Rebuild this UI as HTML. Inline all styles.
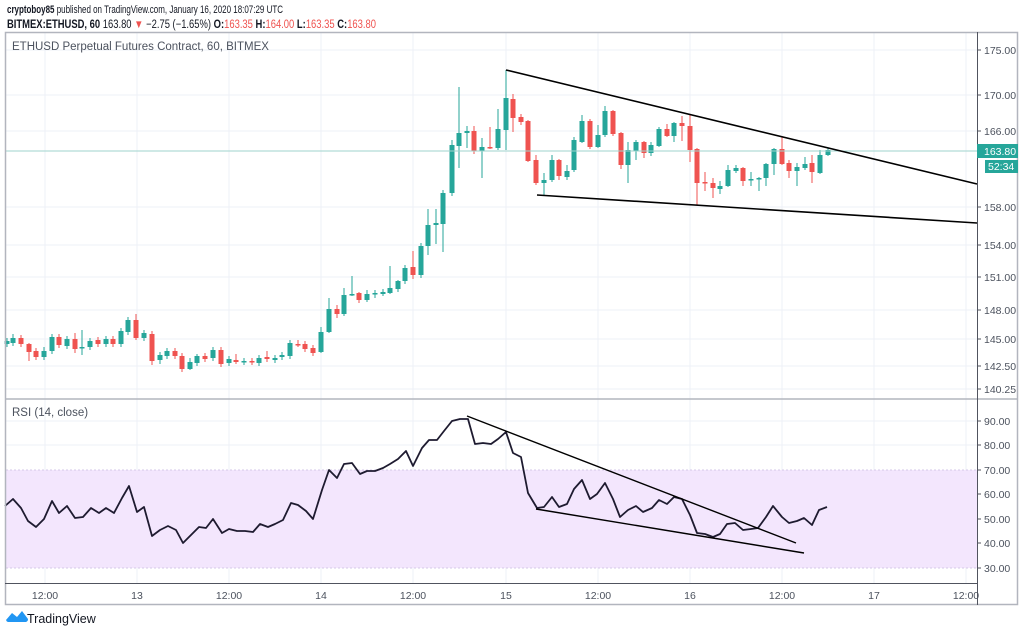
<!DOCTYPE html>
<html><head><meta charset="utf-8">
<style>
body{margin:0;background:#fff;width:1024px;height:633px;overflow:hidden;font-family:"Liberation Sans",sans-serif;}
svg{position:absolute;left:0;top:0}
</style></head>
<body>
<svg id="s" width="1024" height="633" xmlns="http://www.w3.org/2000/svg" font-family="Liberation Sans, sans-serif">
<text x="7" y="13" font-size="11" fill="#131722" textLength="276" lengthAdjust="spacingAndGlyphs"><tspan font-weight="bold">cryptoboy85</tspan> published on TradingView.com, January 16, 2020 18:07:29 UTC</text>
<text x="7" y="28" font-size="11.5" fill="#131722" textLength="369" lengthAdjust="spacingAndGlyphs"><tspan font-weight="bold">BITMEX:ETHUSD, 60</tspan> 163.80 <tspan fill="#ef5350">▼</tspan> −2.75 (−1.65%) <tspan font-weight="bold">O:</tspan><tspan fill="#ef5350">163.35</tspan> <tspan font-weight="bold">H:</tspan><tspan fill="#ef5350">164.00</tspan> <tspan font-weight="bold">L:</tspan><tspan fill="#ef5350">163.35</tspan> <tspan font-weight="bold">C:</tspan><tspan fill="#ef5350">163.80</tspan></text>
<g id="grid"></g>
<rect x="6" y="470" width="971" height="98" fill="#f3e6fd"/>
<line x1="6" y1="470" x2="977" y2="470" stroke="#d6c8e8" stroke-dasharray="2,2"/>
<line x1="6" y1="568" x2="977" y2="568" stroke="#d6c8e8" stroke-dasharray="2,2"/>
<g id="c"></g>
<line x1="6" y1="151" x2="977" y2="151" stroke="#9fd3cd" stroke-width="1"/>
<line x1="506" y1="70" x2="977" y2="184" stroke="#000" stroke-width="1.6"/>
<line x1="537" y1="195" x2="977" y2="223" stroke="#000" stroke-width="1.6"/>
<polyline id="rsi" fill="none" stroke="#1e1b30" stroke-width="1.8" stroke-linejoin="round"/>
<line x1="467" y1="416" x2="796" y2="543" stroke="#000" stroke-width="1.4"/>
<line x1="536" y1="509" x2="804" y2="553" stroke="#000" stroke-width="1.4"/>
<rect x="5.5" y="32.5" width="1012" height="572" fill="none" stroke="#b2b5be" stroke-width="1.5"/>
<line x1="5" y1="399" x2="1018" y2="399" stroke="#b2b5be" stroke-width="1.5"/>
<line x1="977.5" y1="32" x2="977.5" y2="605" stroke="#50535e" stroke-width="1"/>
<line x1="5" y1="583.5" x2="977" y2="583.5" stroke="#50535e" stroke-width="1"/>
<text x="12" y="50" font-size="11.5" fill="#4c525e">ETHUSD Perpetual Futures Contract, 60, BITMEX</text>
<text x="12" y="416" font-size="11.5" fill="#4c525e">RSI (14, close)</text>
<g id="ax" font-size="10.5" fill="#4c525e"></g>
<rect x="977" y="144" width="41" height="14" fill="#26a69a"/>
<text x="984" y="155" font-size="10.5" fill="#fff">163.80</text>
<rect x="985" y="160" width="33" height="13" fill="#26a69a"/>
<text x="988" y="170" font-size="10.5" fill="#fff">52:34</text>
<path d="M6 620 l6 -7 l5 4 l5 -6 l6 8 a3 3 0 0 1 -2 3 h-18 a3 3 0 0 1 -2 -2z" fill="#2196f3"/>
<text x="27" y="623" font-size="12.5" fill="#131722">TradingView</text>
</svg>
<script>
const NS="http://www.w3.org/2000/svg";
function el(p,t,a,txt){const e=document.createElementNS(NS,t);for(const k in a)e.setAttribute(k,a[k]);if(txt)e.textContent=txt;document.getElementById(p).appendChild(e);}
[50,95,131,207,245,277,310,339,366,389,421,445,494,519,543].forEach(y=>el("grid","line",{x1:6,x2:977,y1:y,y2:y,stroke:"#eef1f7"}));
const xs=[45,137,229,321,413,506,598,690,782,874,966],xl=["12:00","13","12:00","14","12:00","15","12:00","16","12:00","17","12:00"];
xs.forEach((x,i)=>{el("grid","line",{x1:x,x2:x,y1:33,y2:583,stroke:"#eef1f7"});el("ax","text",{x:x,y:599,"text-anchor":"middle"},xl[i]);});
[[50,"175.00"],[95,"170.00"],[131,"166.00"],[207,"158.00"],[245,"154.00"],[277,"151.00"],[310,"148.00"],[339,"145.00"],[366,"142.50"],[389,"140.25"],[421,"90.00"],[445,"80.00"],[470,"70.00"],[494,"60.00"],[519,"50.00"],[543,"40.00"],[568,"30.00"]].forEach(a=>{el("ax","line",{x1:977,x2:981,y1:a[0],y2:a[0],stroke:"#50535e"});el("ax","text",{x:984,y:a[0]+4},a[1]);});
const C=[[7,341,344,'g'],[13,338,343,'g',334],[21,338,344,'r'],[29,344,352,'r',343,361],[36,351,357,'r'],[44,351,357,'g',347],[52,337,351,'g'],[59,337,345,'r',334],[67,339,346,'g'],[75,339,349,'r',333,353],[82,347,348,'g',330,355],[90,341,347,'g'],[98,340,344,'r'],[106,339,344,'g'],[113,339,344,'r'],[121,331,344,'g'],[128,320,332,'g'],[136,320,338,'r',314,340],[144,333,338,'g'],[152,334,361,'r',331,365],[160,355,360,'g',352,364],[167,351,356,'g'],[175,351,356,'r'],[182,356,369,'r'],[190,362,369,'g',358,370],[197,356,363,'g',354,366],[205,356,359,'r'],[213,350,358,'g'],[221,350,364,'r'],[229,359,363,'g'],[236,360,362,'r',354,364],[244,361,362,'g',358,365],[252,361,362,'r'],[259,358,363,'g'],[267,357,359,'r',351,362],[275,358,360,'g'],[282,355,357,'g'],[290,343,356,'g'],[298,344,345,'r',340,347],[305,344,349,'r'],[313,348,353,'r'],[321,332,352,'g',327,353],[329,309,332,'g',298,333],[337,309,314,'r',305,318],[344,295,314,'g',288,316],[352,294,295,'g',276,296],[359,293,300,'r',292,303],[367,294,300,'g',290,302],[375,293,294,'g',290,298],[383,292,294,'g',289,296],[390,288,293,'g',266,294],[398,281,289,'g',280,292],[405,268,281,'g'],[413,267,275,'r',251,279],[421,246,275,'g'],[428,225,246,'g',209,255],[436,223,225,'g',209,244],[443,193,224,'g',190,252],[452,145,193,'g',140,196],[459,133,146,'g',87,168],[467,131,133,'g',126,148],[474,131,151,'r',126,154],[482,147,151,'g',138,178],[490,147,148,'r',127,149],[498,129,148,'g',109,150],[506,98,130,'g',70,150],[513,99,118,'r',94,132],[521,117,122,'r'],[528,121,161,'r',120,162],[536,160,183,'r',155,185],[544,180,183,'g',173,195],[552,160,180,'g',155,182],[559,160,176,'r',159,180],[567,171,177,'g',165,180],[574,140,170,'g',137,172],[582,121,142,'g',115,143],[590,121,147,'r',119,149],[598,135,147,'g',125,148],[605,111,135,'g',106,137],[613,111,134,'r',110,136],[621,133,165,'r',132,169],[628,150,165,'g',142,183],[636,142,151,'g',140,160],[644,142,153,'r',141,158],[651,145,153,'g'],[659,129,146,'g',127,147],[667,129,136,'r',124,137],[674,123,136,'g',122,142],[682,123,126,'r',116,141],[690,126,150,'r',115,162],[697,149,183,'r',148,205],[705,182,183,'r',172,191],[713,183,188,'r',178,198],[720,186,189,'g',181,194],[728,170,186,'g',165,187],[736,168,171,'g',165,173],[743,168,181,'r',167,186],[751,179,180,'g',172,186],[759,178,179,'g',177,191],[766,164,178,'g',163,186],[774,149,164,'g',148,175],[782,149,164,'r',136,165],[789,163,171,'r',160,178],[797,167,171,'g',163,186],[805,164,168,'g',157,170],[812,163,172,'r',155,183],[820,155,173,'g',150,174],[828,150,155,'g',148,156]];
C.forEach(c=>{const col=c[3]=='g'?"#26a69a":"#ef5350";const wt=c[4]||c[1]-3,wb=c[5]||c[2]+3;
el("c","line",{x1:c[0],x2:c[0],y1:wt,y2:wb,stroke:col,"stroke-width":1});
el("c","rect",{x:c[0]-2.5,y:c[1],width:5,height:Math.max(1.5,c[2]-c[1]),fill:col});});
const R=[[5,506],[13,499],[21,508],[28,521],[36,527],[44,519],[52,501],[59,513],[67,506],[75,518],[83,517],[91,508],[99,513],[106,508],[114,513],[122,498],[129,486],[137,512],[144,507],[152,536],[160,530],[168,526],[176,530],[183,543],[191,535],[199,527],[206,528],[213,519],[222,533],[229,529],[237,531],[245,531],[253,532],[260,524],[268,527],[275,524],[283,520],[291,503],[298,505],[306,511],[313,519],[322,490],[329,470],[337,478],[344,464],[352,463],[360,474],[367,471],[375,471],[383,468],[390,464],[398,459],[406,451],[413,466],[422,448],[429,440],[437,440],[444,431],[452,421],[460,419],[468,419],[475,444],[483,443],[491,444],[498,439],[506,432],[513,453],[521,457],[528,493],[537,508],[544,507],[552,497],[559,507],[567,504],[574,489],[582,480],[590,499],[597,494],[605,483],[613,499],[620,517],[628,510],[636,506],[643,512],[652,508],[659,500],[667,504],[674,497],[682,499],[690,515],[697,533],[705,534],[713,537],[720,534],[727,524],[735,523],[743,530],[751,529],[758,528],[766,517],[773,506],[782,517],[789,523],[797,521],[804,518],[812,525],[819,510],[827,507]];
document.getElementById("rsi").setAttribute("points",R.map(p=>p.join(",")).join(" "));
</script>
</body></html>
